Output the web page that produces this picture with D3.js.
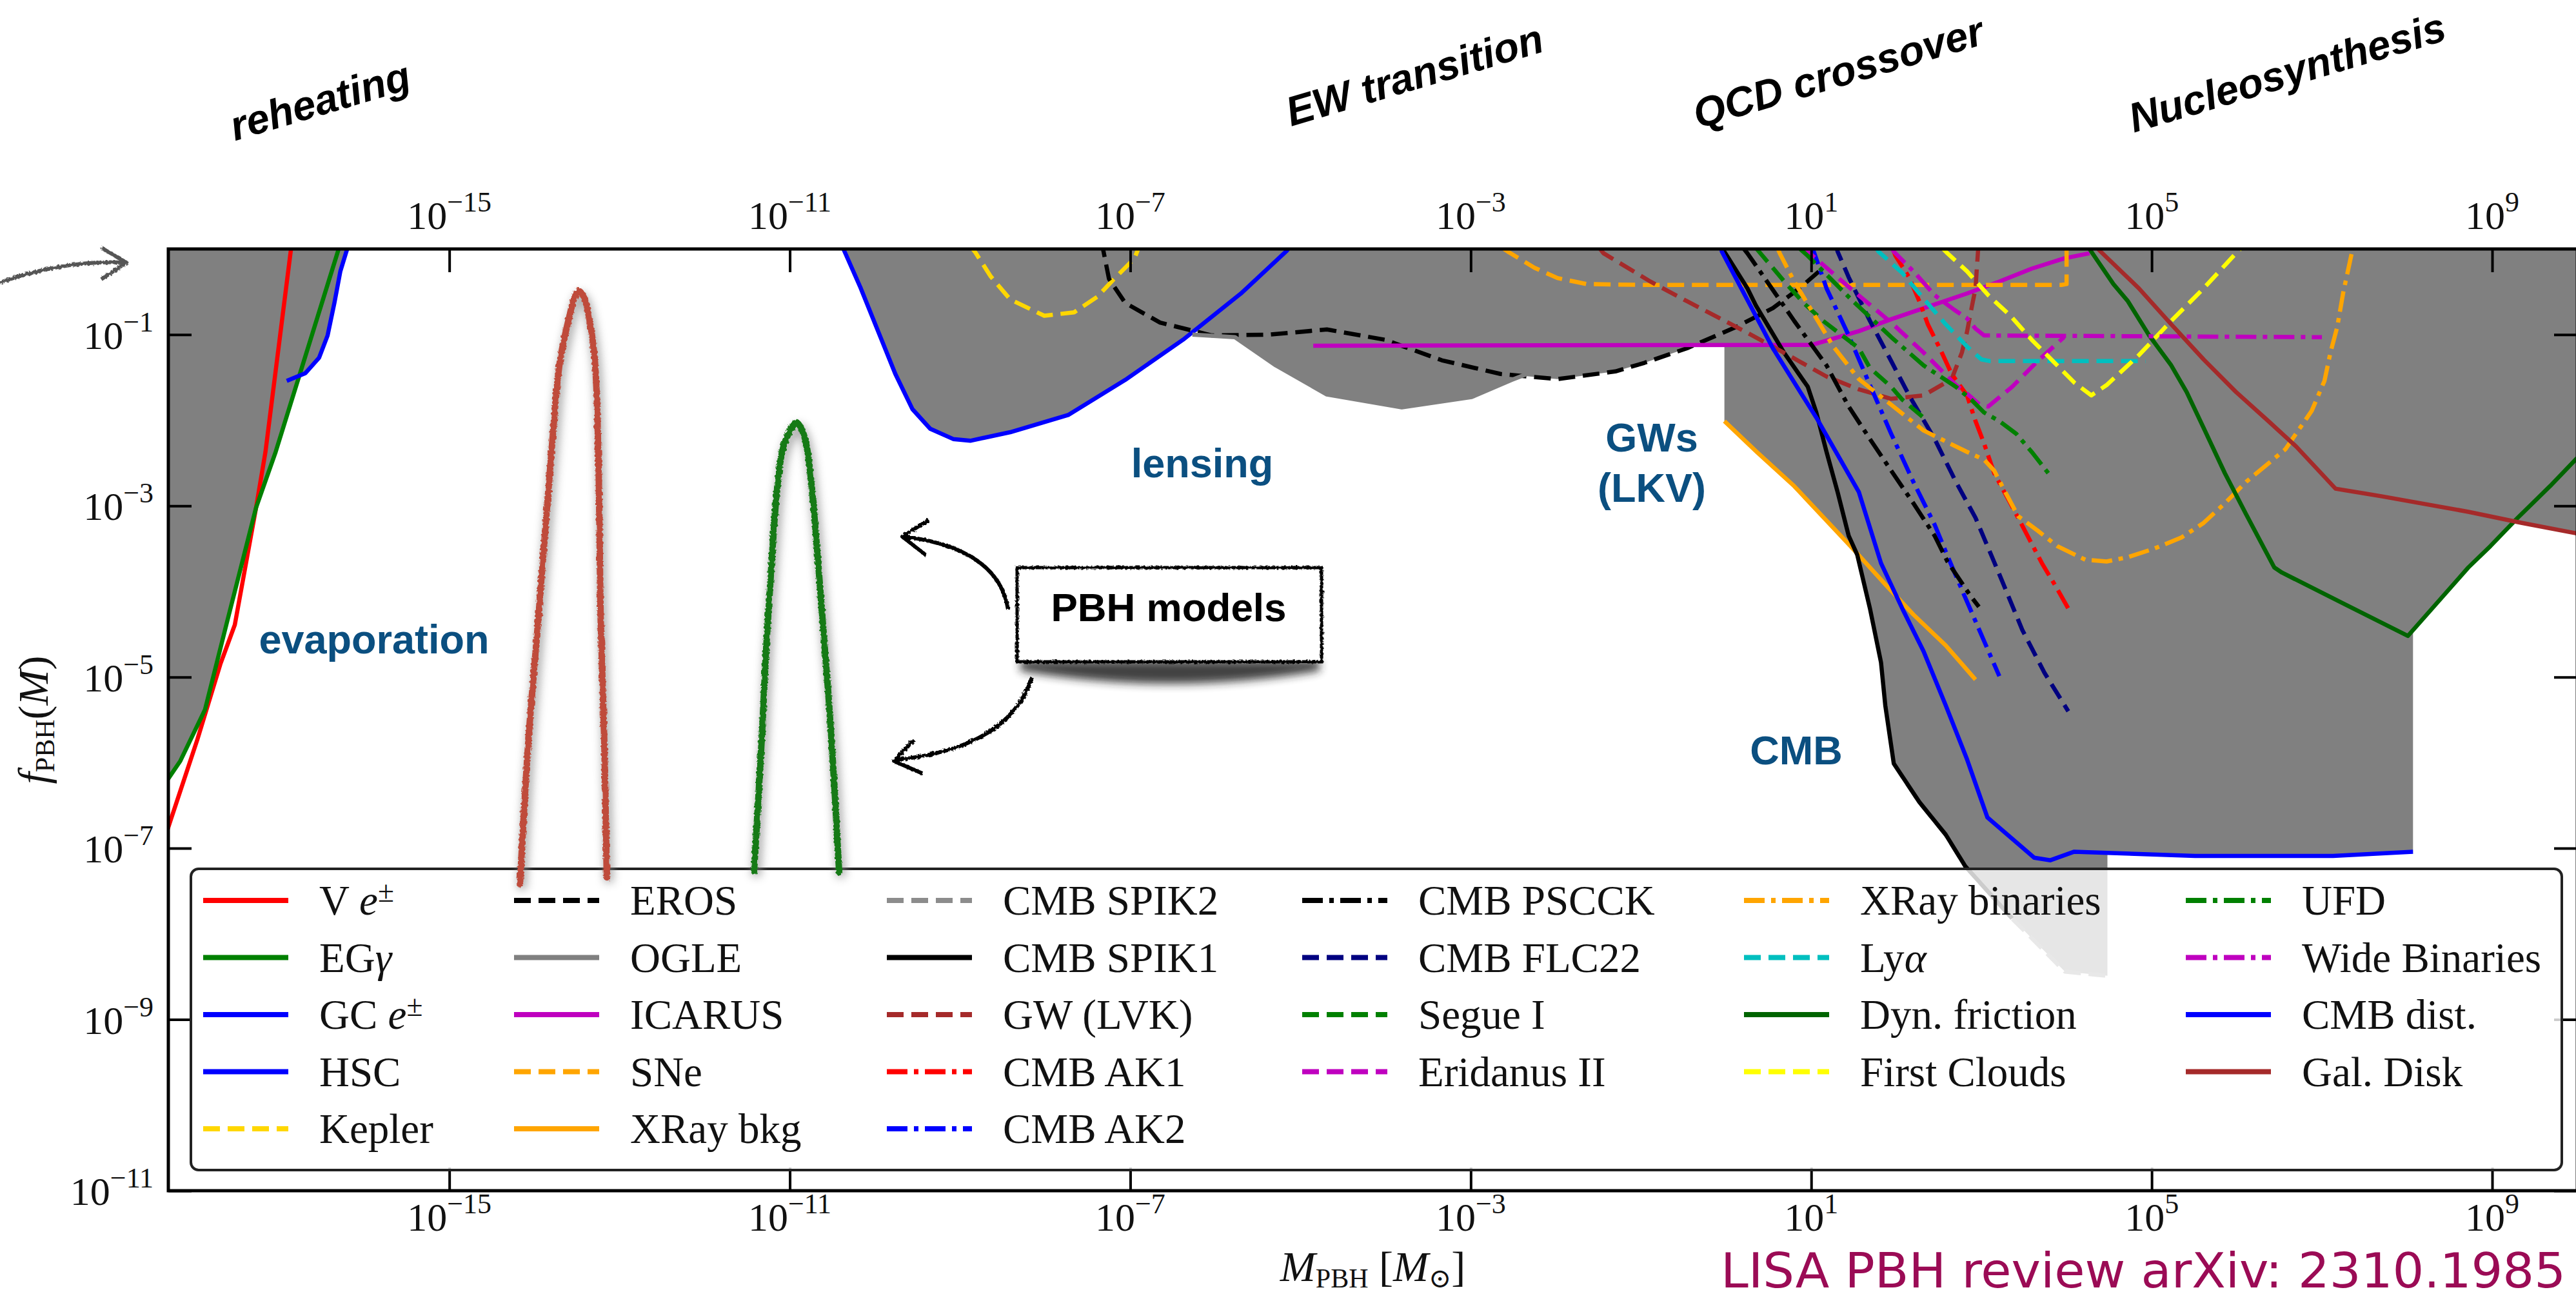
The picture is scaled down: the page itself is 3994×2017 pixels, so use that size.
<!DOCTYPE html>
<html>
<head>
<meta charset="utf-8">
<script src="https://cdn.jsdelivr.net/npm/d3@7"></script>
<style>
  body { margin: 0; background: #fff; }
  svg { display: block; }
</style>
</head>
<body>
<svg id="chart" width="3994" height="2017"></svg>
<script>
/* ---- constraint curves, [log10 M/Msun, log10 f_PBH] ---- */
const vEpm = [[-18.31,-6.78],[-17.96,-5.73],[-17.69,-4.85],[-17.52,-4.39],[-17.27,-3.02],[-17.16,-2.37],[-16.86,0],[-16.81,0.4]];
const egGamma = [[-18.31,-6.20],[-18.16,-5.98],[-17.87,-5.38],[-17.62,-4.39],[-17.27,-3.02],[-17.04,-2.37],[-16.30,0],[-16.18,0.4]];
const gcEpm = [[-16.91,-1.54],[-16.69,-1.45],[-16.53,-1.27],[-16.43,-1.01],[-16.35,-0.63],[-16.28,-0.26],[-16.20,0],[-16.12,0.3]];
const hsc = [[-10.51,0.3],[-10.37,0],[-10.17,-0.45],[-9.76,-1.46],[-9.56,-1.87],[-9.35,-2.10],[-9.08,-2.22],[-8.88,-2.24],[-8.41,-2.14],[-7.73,-1.94],[-7.06,-1.53],[-6.38,-1.06],[-5.70,-0.52],[-5.16,-0.02],[-5.0,0.2]];
const kepler = [[-8.89,0.05],[-8.82,-0.04],[-8.64,-0.32],[-8.41,-0.59],[-8.01,-0.78],[-7.66,-0.74],[-7.39,-0.56],[-7.19,-0.35],[-6.95,-0.11],[-6.90,0.02]];
const eros = [[-7.33,0.1],[-7.32,0],[-7.25,-0.35],[-7.06,-0.63],[-6.65,-0.86],[-6.04,-1.01],[-5.36,-1.00],[-4.69,-0.94],[-4.01,-1.06],[-3.34,-1.30],[-2.65,-1.46],[-1.98,-1.52],[-1.30,-1.43],[-0.96,-1.33],[-0.46,-1.16],[0.12,-0.91],[0.55,-0.69],[0.86,-0.46],[1.14,-0.22]];
const ogle = [[-6.27,-1.00],[-5.77,-1.03],[-5.29,-1.36],[-4.69,-1.70],[-3.81,-1.85],[-2.99,-1.73],[-2.52,-1.53],[-1.95,-1.31]];
const icarus = [[-4.85,-1.13],[1.01,-1.12],[1.56,-0.96],[1.94,-0.82],[2.83,-0.52],[3.21,-0.38],[3.59,-0.23],[3.97,-0.11],[4.27,-0.05]];
const sne = [[-2.61,0],[-2.55,-0.04],[-2.25,-0.22],[-1.98,-0.34],[-1.64,-0.41],[-0.96,-0.42],[3.94,-0.42],[4.00,-0.41],[4.00,0.1]];
const xrayBkg = [[-0.02,-2.01],[0.36,-2.37],[0.80,-2.77],[1.46,-3.47],[1.90,-3.95],[2.20,-4.27],[2.58,-4.63],[2.93,-5.03]];
const cmbSpik2 = [[1.97,-6.01],[2.27,-6.46],[2.58,-6.84],[2.81,-7.21],[3.36,-7.82],[3.98,-8.44],[4.48,-8.49]];
const cmbSpik1 = [[-0.04,0],[0.25,-0.46],[0.35,-0.66],[0.68,-1.21],[0.96,-1.61],[1.06,-1.91],[1.18,-2.37],[1.31,-2.84],[1.44,-3.35],[1.54,-3.57],[1.69,-4.20],[1.82,-4.83],[1.87,-5.33],[1.97,-6.01],[2.27,-6.46],[2.58,-6.84],[2.81,-7.21],[3.36,-7.82]];
const gwLvk = [[-1.48,0],[-1.44,-0.05],[-0.89,-0.38],[-0.46,-0.61],[0.12,-0.91],[0.55,-1.14],[1.18,-1.49],[1.56,-1.64],[1.94,-1.75],[2.32,-1.71],[2.65,-1.52],[2.77,-1.21],[2.83,-0.97],[2.88,-0.71],[2.93,-0.46],[2.96,-0.02],[2.97,0.1]];
const cmbAk1 = [[1.96,0],[1.99,-0.08],[2.15,-0.33],[2.27,-0.61],[2.37,-0.88],[2.52,-1.18],[2.65,-1.46],[2.83,-1.71],[2.93,-2.01],[3.03,-2.27],[3.15,-2.62],[3.34,-2.97],[3.51,-3.29],[3.71,-3.67],[3.89,-3.97],[4.02,-4.20]];
const cmbAk2 = [[1.00,0.05],[1.03,-0.03],[1.18,-0.46],[1.44,-1.01],[1.69,-1.59],[1.94,-2.16],[2.20,-2.72],[2.45,-3.22],[2.62,-3.63],[2.80,-4.05],[3.21,-4.99]];
const cmbPscck = [[0.21,0],[0.25,-0.05],[0.46,-0.35],[0.80,-0.84],[1.18,-1.36],[1.44,-1.84],[1.69,-2.22],[1.94,-2.59],[2.20,-2.97],[2.45,-3.35],[2.60,-3.65],[2.87,-4.05],[2.97,-4.18]];
const cmbFlc22 = [[1.29,0.05],[1.31,-0.03],[1.44,-0.33],[1.69,-0.84],[1.94,-1.31],[2.15,-1.71],[2.45,-2.22],[2.70,-2.72],[2.93,-3.14],[3.21,-3.80],[3.48,-4.45],[3.74,-4.95],[4.02,-5.40]];
const segue1 = [[0.36,0],[0.71,-0.41],[0.91,-0.63],[1.14,-0.84],[1.56,-1.16],[1.69,-1.39],[1.94,-1.61],[2.07,-1.76],[2.32,-1.97]];
const eridanus2 = [[0.92,0.05],[0.96,-0.03],[1.46,-0.46],[1.94,-0.86],[2.32,-1.21],[2.70,-1.59],[2.83,-1.69],[2.98,-1.82],[3.08,-1.84],[3.36,-1.61],[3.66,-1.31],[3.97,-1.03]];
const xrayBin = [[0.61,0],[0.63,-0.05],[0.80,-0.38],[1.03,-0.76],[1.26,-1.14],[1.56,-1.52],[1.94,-1.82],[2.32,-2.12],[2.83,-2.37],[3.03,-2.46],[3.15,-2.59],[3.28,-2.84],[3.43,-3.12],[3.66,-3.29],[3.89,-3.47],[4.22,-3.63],[4.47,-3.65],[4.72,-3.60],[5.03,-3.50],[5.35,-3.37],[5.61,-3.20],[5.86,-2.97],[6.11,-2.72],[6.57,-2.34],[6.88,-1.89],[7.03,-1.54],[7.10,-1.21],[7.18,-0.91],[7.25,-0.51],[7.35,-0.05],[7.36,0.05]];
const lyAlpha = [[1.76,0.02],[1.79,-0.03],[2.07,-0.28],[2.32,-0.58],[2.58,-0.88],[2.83,-1.14],[3.00,-1.29],[3.10,-1.31],[4.93,-1.31]];
const dynFriction = [[4.27,0],[4.29,-0.03],[4.55,-0.41],[4.72,-0.61],[4.97,-1.01],[5.23,-1.36],[5.41,-1.67],[5.61,-2.09],[5.86,-2.62],[6.11,-3.10],[6.44,-3.72],[6.53,-3.78],[7.27,-4.15],[8.01,-4.52],[8.72,-3.72],[8.98,-3.47],[9.30,-3.14],[9.68,-2.77],[9.98,-2.46],[10.1,-2.35]];
const firstClouds = [[2.55,0],[2.60,-0.05],[2.83,-0.26],[3.08,-0.54],[3.34,-0.78],[3.59,-1.06],[3.84,-1.31],[4.09,-1.56],[4.29,-1.71],[4.47,-1.59],[4.85,-1.24],[5.23,-0.84],[5.61,-0.46],[5.99,-0.05],[6.04,0]];
const ufd = [[0.87,0],[0.96,-0.08],[1.46,-0.58],[1.94,-1.03],[2.32,-1.36],[2.70,-1.61],[2.88,-1.76],[3.03,-1.91],[3.21,-2.01],[3.41,-2.16],[3.59,-2.37],[3.81,-2.65]];
const wideBin = [[1.94,0.02],[1.97,-0.03],[2.22,-0.28],[2.45,-0.54],[2.68,-0.71],[2.83,-0.81],[2.93,-0.93],[3.03,-1.01],[7.00,-1.03]];
const cmbDist = [[-0.08,0.1],[-0.05,-0.03],[0.55,-1.16],[1.06,-1.97],[1.56,-2.84],[1.82,-3.67],[2.07,-4.20],[2.32,-4.70],[2.58,-5.33],[2.83,-5.96],[3.07,-6.64],[3.62,-7.11],[3.81,-7.14],[4.09,-7.04],[5.51,-7.09],[7.13,-7.09],[8.07,-7.04]];
const galDisk = [[4.37,0],[4.40,-0.03],[4.85,-0.46],[5.23,-0.88],[5.61,-1.29],[5.99,-1.67],[6.37,-2.01],[6.70,-2.31],[7.16,-2.80],[7.71,-2.89],[8.72,-3.07],[9.35,-3.20],[9.98,-3.32],[10.1,-3.35]];

/* excluded (grey) regions */
const evapRegion = [[-18.4,0.3],[-16.12,0.3],[-16.20,0],[-16.28,-0.26],[-16.35,-0.63],[-16.43,-1.01],[-16.53,-1.27],[-16.69,-1.45],[-16.77,-1.48],[-17.04,-2.37],[-17.27,-3.02],[-17.62,-4.39],[-17.87,-5.38],[-18.16,-5.98],[-18.31,-6.20],[-18.4,-6.3]];
const mainRegion = [[-10.51,0.3],[-10.37,0],[-10.17,-0.45],[-9.76,-1.46],[-9.56,-1.87],[-9.35,-2.10],[-9.08,-2.22],[-8.88,-2.24],[-8.41,-2.14],[-7.73,-1.94],[-7.06,-1.53],[-6.38,-1.06],[-6.25,-0.96],[-6.04,-1.01],[-5.77,-1.03],[-5.29,-1.36],[-4.69,-1.70],[-3.81,-1.85],[-2.99,-1.73],[-2.52,-1.53],[-2.40,-1.48],[-1.98,-1.52],[-1.30,-1.43],[-0.96,-1.33],[-0.46,-1.16],[-0.39,-1.13],[-0.02,-1.13],[-0.02,-2.01],[0.36,-2.37],[0.80,-2.77],[1.46,-3.47],[1.54,-3.57],[1.69,-4.20],[1.82,-4.83],[1.87,-5.33],[1.97,-6.01],[2.27,-6.46],[2.58,-6.84],[2.81,-7.21],[3.36,-7.82],[3.98,-8.44],[4.48,-8.49],[4.48,-7.05],[5.51,-7.09],[7.13,-7.09],[8.07,-7.04],[8.07,-4.46],[8.72,-3.72],[8.98,-3.47],[9.26,-3.18],[9.35,-3.20],[9.98,-3.32],[10.1,-3.35],[10.1,0.3]];

/* PBH mass-function models */
const pbhRed = [[-14.17,-7.42],[-14.07,-5.73],[-13.96,-4.39],[-13.80,-2.37],[-13.70,-1.31],[-13.59,-0.79],[-13.53,-0.57],[-13.48,-0.49],[-13.42,-0.56],[-13.36,-0.79],[-13.29,-1.31],[-13.25,-2.37],[-13.22,-4.39],[-13.18,-5.73],[-13.15,-7.34]];
const pbhGreen = [[-11.42,-7.27],[-11.33,-5.73],[-11.26,-4.39],[-11.09,-2.37],[-11.0,-2.13],[-10.92,-2.03],[-10.85,-2.13],[-10.79,-2.37],[-10.61,-4.39],[-10.51,-5.73],[-10.42,-7.28]];

const xTickExp = [-15, -11, -7, -3, 1, 5, 9];
const yTickExp = [-1, -3, -5, -7, -9, -11];

/* ---- styling table built from the arrays (legend order) ---- */
const DASH = '26,12', DASHDOT = '32,10,7,10';
const series = [
  { name: 'V *e*^±^',     data: vEpm,        color: '#ff0000', dash: null },
  { name: 'EG*γ*',        data: egGamma,     color: '#008000', dash: null },
  { name: 'GC *e*^±^',    data: gcEpm,       color: '#0000ff', dash: null },
  { name: 'HSC',          data: hsc,         color: '#0000ff', dash: null },
  { name: 'Kepler',       data: kepler,      color: '#ffd700', dash: DASH },
  { name: 'EROS',         data: eros,        color: '#000000', dash: DASH },
  { name: 'OGLE',         data: ogle,        color: '#808080', dash: null },
  { name: 'ICARUS',       data: icarus,      color: '#bf00bf', dash: null },
  { name: 'SNe',          data: sne,         color: '#ffa500', dash: DASH },
  { name: 'XRay bkg',     data: xrayBkg,     color: '#ffa500', dash: null },
  { name: 'CMB SPIK2',    data: cmbSpik2,    color: '#8c8c8c', dash: DASH },
  { name: 'CMB SPIK1',    data: cmbSpik1,    color: '#000000', dash: null },
  { name: 'GW (LVK)',     data: gwLvk,       color: '#a52a2a', dash: DASH },
  { name: 'CMB AK1',      data: cmbAk1,      color: '#ff0000', dash: DASHDOT },
  { name: 'CMB AK2',      data: cmbAk2,      color: '#0000ff', dash: DASHDOT },
  { name: 'CMB PSCCK',    data: cmbPscck,    color: '#000000', dash: DASHDOT },
  { name: 'CMB FLC22',    data: cmbFlc22,    color: '#000080', dash: DASH },
  { name: 'Segue I',      data: segue1,      color: '#008000', dash: DASH },
  { name: 'Eridanus II',  data: eridanus2,   color: '#bf00bf', dash: DASH },
  { name: 'XRay binaries',data: xrayBin,     color: '#ffa500', dash: DASHDOT },
  { name: 'Ly*α*',        data: lyAlpha,     color: '#00bfbf', dash: DASH },
  { name: 'Dyn. friction',data: dynFriction, color: '#006400', dash: null },
  { name: 'First Clouds', data: firstClouds, color: '#ffff00', dash: DASH },
  { name: 'UFD',          data: ufd,         color: '#008000', dash: DASHDOT },
  { name: 'Wide Binaries',data: wideBin,     color: '#bf00bf', dash: DASHDOT },
  { name: 'CMB dist.',    data: cmbDist,     color: '#0000ff', dash: null },
  { name: 'Gal. Disk',    data: galDisk,     color: '#a52a2a', dash: null }
];

const SERIF = '"Liberation Serif", "DejaVu Serif", serif';
const SANS = '"Liberation Sans", Arial, sans-serif';
const LABEL_BLUE = '#0b4f80';

const svg = d3.select('#chart');
const area = { left: 261, right: 3996, top: 386, bottom: 1846 };

const x = d3.scaleLog().domain([5e-19, 1e10]).range([area.left, area.right]);
const y = d3.scaleLog().domain([1e-11, 1]).range([area.bottom, area.top]);
const px = d => x(Math.pow(10, d[0]));
const py = d => y(Math.pow(10, d[1]));
const line = d3.line().x(px).y(py);
const smooth = d3.line().x(px).y(py).curve(d3.curveCatmullRom.alpha(0.5));

/* defs: clip, rough strokes, blur */
const defs = svg.append('defs');
defs.append('clipPath').attr('id', 'plotClip').append('rect')
  .attr('x', area.left).attr('y', area.top)
  .attr('width', area.right - area.left).attr('height', area.bottom - area.top);
const rough = defs.append('filter').attr('id', 'rough').attr('x', '-10%').attr('y', '-10%').attr('width', '120%').attr('height', '120%');
rough.append('feTurbulence').attr('type', 'fractalNoise').attr('baseFrequency', 0.25).attr('numOctaves', 2).attr('result', 'n');
rough.append('feDisplacementMap').attr('in', 'SourceGraphic').attr('in2', 'n').attr('scale', 5);
const blur = defs.append('filter').attr('id', 'blur').attr('x', '-20%').attr('y', '-50%').attr('width', '140%').attr('height', '200%');
blur.append('feGaussianBlur').attr('stdDeviation', 7);

/* grey excluded area */
const plot = svg.append('g').attr('clip-path', 'url(#plotClip)');
plot.selectAll('path.region').data([evapRegion, mainRegion]).join('path')
  .attr('class', 'region')
  .attr('d', d => line(d) + 'Z')
  .attr('fill', '#808080');

/* constraint lines */
plot.selectAll('path.constraint').data(series).join('path')
  .attr('class', 'constraint')
  .attr('d', d => line(d.data))
  .attr('fill', 'none')
  .attr('stroke', d => d.color)
  .attr('stroke-width', 6.5)
  .attr('stroke-dasharray', d => d.dash)
  .attr('stroke-linejoin', 'round');

/* axes: inward ticks on all four sides */
const tickLen = -36;
const noLabel = () => '';
const axes = [
  [d3.axisBottom(x), `translate(0,${area.bottom})`, xTickExp],
  [d3.axisTop(x), `translate(0,${area.top})`, xTickExp],
  [d3.axisLeft(y), `translate(${area.left},0)`, yTickExp],
  [d3.axisRight(y), `translate(${area.right},0)`, yTickExp]
];
axes.forEach(([ax, tr, exps]) => {
  svg.append('g').attr('transform', tr)
    .call(ax.tickValues(exps.map(e => Math.pow(10, e))).tickSizeInner(tickLen).tickSizeOuter(0).tickFormat(noLabel))
    .call(g => g.select('.domain').remove())
    .call(g => g.selectAll('.tick line').attr('stroke', '#000').attr('stroke-width', 4));
});

/* frame */
svg.append('rect')
  .attr('x', area.left).attr('y', area.top)
  .attr('width', area.right - area.left).attr('height', area.bottom - area.top)
  .attr('fill', 'none').attr('stroke', '#000').attr('stroke-width', 5);

/* tick labels 10^n */
function powerLabel(sel, e) {
  sel.append('tspan').text('10');
  sel.append('tspan').attr('font-size', 44).attr('dy', -27).text(e < 0 ? '\u2212' + Math.abs(e) : String(e));
}
[[area.bottom + 62], [area.top - 31]].forEach(([yy]) => {
  svg.append('g').selectAll('text').data(xTickExp).join('text')
    .attr('x', e => x(Math.pow(10, e)))
    .attr('y', yy)
    .attr('text-anchor', 'middle')
    .attr('font-family', SERIF).attr('font-size', 62).attr('fill', '#111')
    .each(function (e) { powerLabel(d3.select(this), e); });
});
svg.append('g').selectAll('text').data(yTickExp).join('text')
  .attr('x', 238)
  .attr('y', e => y(Math.pow(10, e)) + 22)
  .attr('text-anchor', 'end')
  .attr('font-family', SERIF).attr('font-size', 62).attr('fill', '#111')
  .each(function (e) { powerLabel(d3.select(this), e); });

/* axis titles */
const xTitle = svg.append('text')
  .attr('x', (area.left + area.right) / 2).attr('y', 1986)
  .attr('text-anchor', 'middle').attr('font-family', SERIF).attr('font-size', 66).attr('fill', '#111');
xTitle.append('tspan').attr('font-style', 'italic').text('M');
xTitle.append('tspan').attr('font-size', 42).attr('dy', 10).text('PBH');
xTitle.append('tspan').attr('dy', -10).text(' [');
xTitle.append('tspan').attr('font-style', 'italic').text('M');
xTitle.append('tspan').attr('font-size', 42).attr('dy', 10).text('\u2299');
xTitle.append('tspan').attr('dy', -10).text(']');

const yTitle = svg.append('text')
  .attr('transform', `translate(74,${(area.top + area.bottom) / 2}) rotate(-90)`)
  .attr('text-anchor', 'middle').attr('font-family', SERIF).attr('font-size', 66).attr('fill', '#111');
yTitle.append('tspan').attr('font-style', 'italic').text('f');
yTitle.append('tspan').attr('font-size', 42).attr('dy', 10).text('PBH');
yTitle.append('tspan').attr('dy', -10).text('(');
yTitle.append('tspan').attr('font-style', 'italic').text('M');
yTitle.append('tspan').text(')');

/* legend */
const legend = { x0: 296, y0: 1347, x1: 3972, y1: 1814 };
svg.append('rect')
  .attr('x', legend.x0).attr('y', legend.y0)
  .attr('width', legend.x1 - legend.x0).attr('height', legend.y1 - legend.y0)
  .attr('rx', 12)
  .attr('fill', 'rgba(255,255,255,0.8)').attr('stroke', '#222').attr('stroke-width', 4);

const colX = [315, 797, 1375, 2019, 2704, 3389];
const rowY0 = 1396, rowStep = 88.5;
function richText(sel, str) {
  str.split(/(\*[^*]+\*|\^[^^]+\^)/).filter(s => s).forEach(s => {
    if (s[0] === '*') sel.append('tspan').attr('font-style', 'italic').text(s.slice(1, -1));
    else if (s[0] === '^') sel.append('tspan').attr('font-size', '0.7em').attr('dy', '-0.45em').text(s.slice(1, -1));
    else sel.append('tspan').text(s);
  });
}
const entries = svg.append('g').selectAll('g').data(series).join('g')
  .attr('transform', (d, i) => {
    const col = i < 15 ? Math.floor(i / 5) : 3 + Math.floor((i - 15) / 4);
    const row = i < 15 ? i % 5 : (i - 15) % 4;
    return `translate(${colX[col]},${rowY0 + row * rowStep})`;
  });
entries.append('line')
  .attr('x1', 0).attr('x2', 132).attr('y1', 0).attr('y2', 0)
  .attr('stroke', d => d.color).attr('stroke-width', 8)
  .attr('stroke-dasharray', d => d.dash);
entries.append('text')
  .attr('x', 180).attr('y', 22)
  .attr('font-family', SERIF).attr('font-size', 65).attr('fill', '#111')
  .each(function (d) { richText(d3.select(this), d.name); });

/* PBH model peaks (sketched) */
const peaks = svg.append('g');
[[pbhRed, '#bf4b3a'], [pbhGreen, '#137a13']].forEach(([pts, col]) => {
  peaks.append('path').attr('d', smooth(pts))
    .attr('fill', 'none').attr('stroke', '#888').attr('stroke-width', 14)
    .attr('transform', 'translate(3,8)').attr('filter', 'url(#blur)').attr('opacity', 0.7);
  peaks.append('path').attr('d', smooth(pts))
    .attr('fill', 'none').attr('stroke', col).attr('stroke-width', 10)
    .attr('stroke-linecap', 'round').attr('filter', 'url(#rough)');
});

/* early-universe epochs */
const epochs = [
  ['reheating', 496, 156],
  ['EW transition', 2193, 116],
  ['QCD crossover', 2850, 112],
  ['Nucleosynthesis', 3546, 112]
];
svg.append('g').selectAll('text').data(epochs).join('text')
  .attr('transform', d => `translate(${d[1]},${d[2]}) rotate(-16.5)`)
  .attr('text-anchor', 'middle').attr('dy', '0.35em')
  .attr('font-family', SANS).attr('font-weight', 'bold').attr('font-style', 'italic')
  .attr('font-size', 64).attr('fill', '#000')
  .text(d => d[0]);

/* region labels */
const regionLabels = [
  ['evaporation', 580, 1013],
  ['lensing', 1864, 740],
  ['GWs', 2561, 700],
  ['(LKV)', 2561, 778],
  ['CMB', 2785, 1185]
];
svg.append('g').selectAll('text').data(regionLabels).join('text')
  .attr('x', d => d[1]).attr('y', d => d[2])
  .attr('text-anchor', 'middle')
  .attr('font-family', SANS).attr('font-weight', 'bold').attr('font-size', 63)
  .attr('fill', LABEL_BLUE)
  .text(d => d[0]);

/* "PBH models" callout */
const callout = svg.append('g');
callout.append('path')
  .attr('d', 'M1582,1024 L2046,1024 L2046,1040 Q1815,1080 1582,1040 Z')
  .attr('fill', '#222').attr('opacity', 0.85).attr('filter', 'url(#blur)');
callout.append('rect')
  .attr('x', 1577).attr('y', 880).attr('width', 472).attr('height', 146)
  .attr('fill', '#fff').attr('stroke', '#000').attr('stroke-width', 5)
  .attr('filter', 'url(#rough)');
callout.append('line')
  .attr('x1', 1580).attr('x2', 2050).attr('y1', 882).attr('y2', 882)
  .attr('stroke', '#000').attr('stroke-width', 8).attr('filter', 'url(#rough)');
callout.append('text')
  .attr('x', 1812).attr('y', 963).attr('text-anchor', 'middle')
  .attr('font-family', SANS).attr('font-weight', 'bold').attr('font-size', 62)
  .attr('fill', '#000').text('PBH models');

const arrows = [
  ['M1563,945 Q1548,850 1402,832', 'M1440,806 L1399,832 L1436,861', '#000'],
  ['M1600,1050 Q1565,1160 1390,1178', 'M1417,1147 L1386,1180 L1430,1199', '#000'],
  ['M0,438 Q100,403 192,407', 'M157,384 L196,407 L157,433', '#555']
];
arrows.forEach(([body, head, col]) => {
  callout.append('path').attr('d', body).attr('fill', 'none')
    .attr('stroke', col).attr('stroke-width', 6).attr('filter', 'url(#rough)');
  callout.append('path').attr('d', head).attr('fill', 'none')
    .attr('stroke', col).attr('stroke-width', 6).attr('stroke-linejoin', 'round')
    .attr('filter', 'url(#rough)');
});

/* reference */
svg.append('text')
  .attr('x', 2668).attr('y', 1996)
  .attr('font-family', '"DejaVu Sans Condensed", "DejaVu Sans", sans-serif')
  .attr('font-stretch', 'condensed')
  .attr('font-size', 74).attr('fill', '#9b0b55')
  .attr('textLength', 1310).attr('lengthAdjust', 'spacingAndGlyphs')
  .text('LISA PBH review arXiv: 2310.1985');
</script>
</body>
</html>
